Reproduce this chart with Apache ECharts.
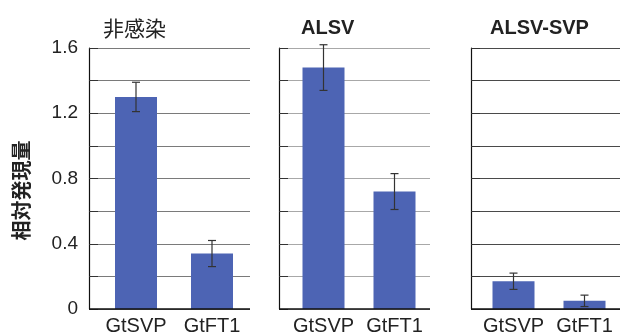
<!DOCTYPE html>
<html>
<head>
<meta charset="utf-8">
<script src="https://cdn.jsdelivr.net/npm/echarts@6/dist/echarts.min.js"></script>
<style>
  html, body { margin: 0; padding: 0; background: #fff; }
  #chart { width: 620px; height: 336px; }
</style>
</head>
<body>
<div id="chart"></div>
<script>
// Relative expression of two genes under three treatments
const genes = ['GtSVP', 'GtFT1'];
const panelTitles = ['非感染', 'ALSV', 'ALSV-SVP'];
const yTicks = [0, 0.4, 0.8, 1.2, 1.6];

const mockMeans = [1.30, 0.34];
const mockErr = [0.09, 0.08];
const alsvMeans = [1.48, 0.72];
const alsvErr = [0.14, 0.11];
const svpMeans = [0.17, 0.05];
const svpErr = [0.05, 0.035];

const panelMeans = [mockMeans, alsvMeans, svpMeans];
const panelErrs = [mockErr, alsvErr, svpErr];

// layout of the three small plots
const panelLeft = [98, 288, 478];
const panelWidth = [152, 142, 143];
const axisOffset = [9, 9, 7];
const titleLeft = [98, 296, 485];
const gridColors = ['#7a7a7a', '#a8a8a8', '#4a4a4a'];
const barColor = '#4d64b4';
const fontLatin = '"Liberation Sans", Arial, sans-serif';
const fontCJK = '"Noto Sans CJK JP", sans-serif';

const chart = echarts.init(document.getElementById('chart'), null, { renderer: 'canvas' });

const grids = [], xAxes = [], yAxes = [], series = [], titles = [];

panelTitles.forEach((t, i) => {
  grids.push({ left: panelLeft[i], width: panelWidth[i], top: 48, height: 265 });
  titles.push({
    text: t,
    left: titleLeft[i],
    top: 13,
    textStyle: i === 0
      ? { fontFamily: fontCJK, fontSize: 21, fontWeight: 'normal', color: '#222' }
      : { fontFamily: fontLatin, fontSize: 20, fontWeight: 'bold', color: '#222' }
  });
  xAxes.push({
    type: 'category', gridIndex: i, data: genes,
    axisLine: { show: false },
    axisTick: { show: false },
    axisLabel: { interval: 0, fontFamily: fontLatin, fontSize: 20, color: '#222', margin: 7 }
  });
  yAxes.push({
    type: 'value', gridIndex: i, min: 0, max: 1.6, interval: 0.2,
    offset: axisOffset[i],
    name: i === 0 ? '相対発現量' : '',
    nameLocation: 'middle', nameGap: 58, nameRotate: 90,
    nameTextStyle: { fontFamily: fontCJK, fontSize: 20, fontWeight: 'bold', color: '#222', padding: [0, 24, 0, 0] },
    axisLine: { show: true, lineStyle: { color: '#111', width: 1.2 } },
    axisTick: { show: true, inside: true, length: 9, lineStyle: { color: '#333' } },
    axisLabel: {
      show: i === 0, fontFamily: fontLatin, fontSize: 19, color: '#222', margin: 11,
      formatter: v => {
        const hit = yTicks.find(t => Math.abs(t - v) < 1e-6);
        return hit === undefined ? '' : String(hit);
      }
    },
    splitLine: { show: true, lineStyle: { color: gridColors[i], width: 1.2 } }
  });
  // baseline running from the (offset) value axis to the right end of the plot
  const off = axisOffset[i];
  series.push({
    type: 'custom', xAxisIndex: i, yAxisIndex: i, z: 4, silent: true,
    data: [[0, 0]],
    renderItem: (params, api) => {
      const cs = params.coordSys;
      const y0 = api.coord([0, 0])[1];
      return {
        type: 'line',
        shape: { x1: cs.x - off, y1: y0, x2: cs.x + cs.width, y2: y0 },
        style: { stroke: '#111', lineWidth: 1.5 }
      };
    }
  });
  series.push({
    type: 'bar', xAxisIndex: i, yAxisIndex: i, data: panelMeans[i],
    barWidth: 42, itemStyle: { color: barColor }
  });
  series.push({
    type: 'custom', xAxisIndex: i, yAxisIndex: i, z: 5,
    data: panelMeans[i].map((m, k) => [k, m, panelErrs[i][k]]),
    renderItem: (params, api) => {
      const x = api.value(0), m = api.value(1), e = api.value(2);
      const hi = api.coord([x, m + e]);
      const lo = api.coord([x, Math.max(0, m - e)]);
      const cap = 4;
      const st = { stroke: '#333', lineWidth: 1.2 };
      return {
        type: 'group',
        children: [
          { type: 'line', shape: { x1: hi[0], y1: hi[1], x2: lo[0], y2: lo[1] }, style: st },
          { type: 'line', shape: { x1: hi[0] - cap, y1: hi[1], x2: hi[0] + cap, y2: hi[1] }, style: st },
          { type: 'line', shape: { x1: lo[0] - cap, y1: lo[1], x2: lo[0] + cap, y2: lo[1] }, style: st }
        ]
      };
    }
  });
});

chart.setOption({
  animation: false,
  backgroundColor: '#fff',
  title: titles,
  grid: grids,
  xAxis: xAxes,
  yAxis: yAxes,
  series: series
});
</script>
</body>
</html>
